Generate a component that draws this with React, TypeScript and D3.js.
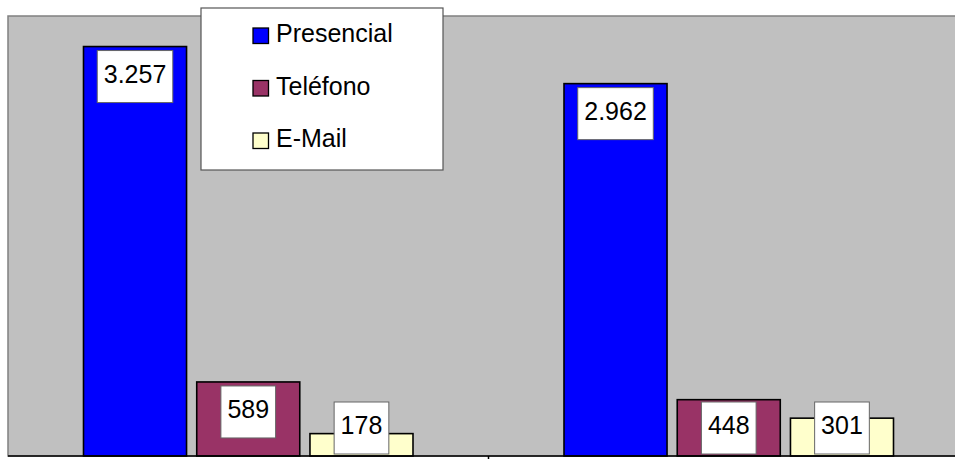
import React from "react";
import * as d3 from "d3";

const categories = ["Grupo 1", "Grupo 2"];
const seriesNames = ["Presencial", "Teléfono", "E-Mail"];
const presencial = [3257, 2962];
const telefono = [589, 448];
const email = [178, 301];
const yTicks = [0, 3500];

const seriesColors = ["#0000FF", "#993366", "#FFFFCC"];
const W = 955;
const H = 459;
const plot = { left: 8, top: 16, right: 969, bottom: 456 };

const fmt = (v: number) => {
  const s = String(v);
  return s.length > 3 ? s.slice(0, s.length - 3) + "." + s.slice(s.length - 3) : s;
};

export default function App() {
  const values = [presencial, telefono, email];
  const y = d3.scaleLinear().domain([yTicks[0], yTicks[1]]).range([plot.bottom, plot.top]);
  const x0 = d3.scaleBand<string>().domain(categories).range([plot.left, plot.right]);
  const gw = x0.bandwidth();
  const x1 = d3
    .scaleBand<string>()
    .domain(seriesNames)
    .range([75.5, gw - 75.5])
    .paddingInner(0.09);
  const font = "'Liberation Sans', Arial, sans-serif";

  const bars: React.ReactNode[] = [];
  const labels: React.ReactNode[] = [];
  categories.forEach((c, ci) => {
    seriesNames.forEach((s, si) => {
      const v = values[si][ci];
      const bx = (x0(c) as number) + (x1(s) as number);
      const bw = x1.bandwidth();
      const top = y(v);
      bars.push(
        <rect
          key={`b-${c}-${s}`}
          x={bx}
          y={top}
          width={bw}
          height={plot.bottom - top}
          fill={seriesColors[si]}
          stroke="#000"
          strokeWidth={1.6}
        />
      );
      const txt = fmt(v);
      const tw = txt.length * 13.9 - (txt.includes(".") ? 6.95 : 0);
      const boxW = tw + 13;
      const boxH = 52;
      const boxTop = Math.min(top + 4, plot.bottom - 54);
      const cx = bx + bw / 2;
      labels.push(
        <g key={`l-${c}-${s}`}>
          <rect
            x={cx - boxW / 2}
            y={boxTop}
            width={boxW}
            height={boxH}
            fill="#fff"
            stroke="#666"
            strokeWidth={1}
          />
          <text
            x={cx}
            y={boxTop + 32}
            textAnchor="middle"
            fontFamily={font}
            fontSize={25}
            fill="#000"
          >
            {txt}
          </text>
        </g>
      );
    });
  });

  const midX = x0(categories[1]) as number;

  return (
    <svg
      width={W}
      height={H}
      style={{ position: "absolute", left: 0, top: 0, background: "#fff" }}
    >
      <rect
        x={plot.left}
        y={plot.top}
        width={plot.right - plot.left}
        height={plot.bottom - plot.top}
        fill="#C0C0C0"
        stroke="#808080"
        strokeWidth={1.5}
      />
      {bars}
      <line x1={plot.left} x2={W} y1={plot.bottom} y2={plot.bottom} stroke="#000" strokeWidth={1.5} />
      <line x1={midX} x2={midX} y1={plot.bottom} y2={plot.bottom + 4} stroke="#000" strokeWidth={1.5} />
      {labels}
      <g>
        <rect x={201} y={8} width={242} height={162} fill="#fff" stroke="#555" strokeWidth={1.2} />
        {seriesNames.map((s, i) => {
          const ry = 28 + i * 52.5;
          return (
            <g key={`lg-${s}`}>
              <rect x={253} y={ry} width={15.5} height={15.5} fill={seriesColors[i]} stroke="#000" strokeWidth={1.3} />
              <text x={276} y={ry + 14} fontFamily={font} fontSize={25} fill="#000">
                {s}
              </text>
            </g>
          );
        })}
      </g>
    </svg>
  );
}
